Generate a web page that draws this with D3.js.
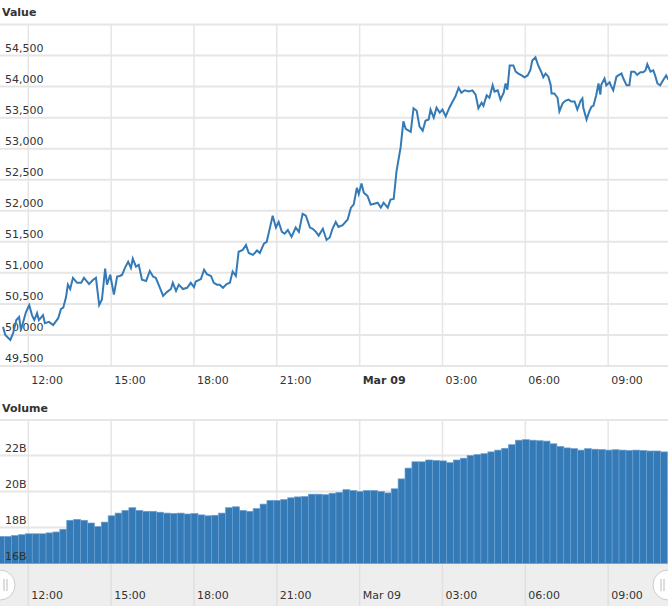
<!DOCTYPE html>
<html>
<head>
<meta charset="utf-8">
<script src="https://cdn.jsdelivr.net/npm/d3@7"></script>
<style>
  body { margin: 0; background: #fff; }
  text { font-family: "DejaVu Sans", Verdana, sans-serif; }
</style>
</head>
<body>
<div id="chart"></div>
<script>
// price samples: minutes after Mar 08 11:00, and price
const priceMinutes = [5,10,21,27,34,40,44,55,62,68,73,79,83,92,96,105,114,125,131,136,142,146,151,157,166,175,181,192,201,207,214,220,227,231,238,246,253,259,264,270,277,283,287,294,300,307,316,324,331,337,346,353,361,370,374,381,387,396,405,413,420,424,435,442,448,457,463,470,476,483,491,498,504,511,517,526,533,539,548,557,563,572,578,583,591,598,604,611,617,624,632,641,648,656,663,672,678,685,691,700,708,715,721,728,734,743,754,761,767,774,778,784,789,797,804,810,819,826,832,841,847,854,860,869,875,880,891,897,904,910,917,923,930,934,941,947,954,960,967,975,982,988,995,1001,1008,1017,1025,1032,1038,1045,1049,1056,1062,1069,1073,1080,1086,1093,1097,1101,1106,1114,1119,1125,1132,1138,1145,1151,1155,1162,1168,1175,1179,1184,1190,1195,1197,1203,1210,1214,1221,1227,1234,1240,1247,1253,1260,1264,1266,1273,1279,1284,1288,1294,1299,1303,1305,1312,1316,1323,1327,1331,1338,1342,1349,1353,1360,1366,1370,1377,1383,1390,1396,1401,1405,1412,1418,1422,1427,1433,1440,1446,1451];
const prices = [50130,50000,49920,50030,50240,50290,50080,50370,50480,50320,50240,50350,50240,50320,50190,50210,50160,50270,50420,50440,50610,50810,50740,50920,50840,50840,50920,50820,50890,50920,50480,50570,51070,50810,50970,50650,50940,50950,50970,51080,51180,51080,51230,51100,51130,50890,50870,51030,50940,50920,50760,50630,50690,50740,50840,50710,50810,50740,50760,50840,50770,50860,50900,51050,50980,50950,50840,50810,50810,50760,50820,50840,51020,50950,51340,51370,51450,51320,51290,51360,51320,51470,51500,51660,51920,51730,51820,51660,51630,51690,51580,51730,51660,51950,51920,51730,51710,51660,51600,51710,51530,51570,51710,51820,51740,51770,51860,52050,52100,52370,52270,52440,52290,52240,52100,52110,52130,52050,52130,52050,52180,52190,52630,53020,53440,53320,53270,53650,53610,53360,53290,53450,53470,53630,53500,53660,53580,53630,53520,53660,53760,53840,53980,53900,53940,53920,53940,53870,53650,53740,53690,53860,53820,54020,53920,53940,53790,53900,54050,53950,54340,54340,54240,54210,54180,54150,54180,54270,54420,54470,54340,54230,54150,54210,54160,54030,53890,53890,53820,53600,53730,53770,53790,53760,53760,53630,53770,53810,53660,53470,53600,53680,53690,53860,54050,53870,54030,54130,54020,54070,54000,53940,54160,54180,54210,54130,54020,54020,54240,54240,54190,54230,54230,54260,54360,54240,54260,54180,54050,54020,54110,54180,54110];

// volume, 15-minute buckets from Mar 08 11:00, billions
const volumes = [17.5,17.5,17.55,17.6,17.65,17.65,17.65,17.7,17.75,17.9,18.4,18.45,18.4,18.25,18.05,18.3,18.65,18.8,18.95,19.1,18.95,18.9,18.9,18.85,18.8,18.78,18.8,18.75,18.78,18.7,18.65,18.68,18.8,19.1,19.15,18.95,18.9,19.05,19.3,19.5,19.5,19.55,19.65,19.7,19.72,19.85,19.85,19.82,19.9,19.95,20.1,20.05,20.0,20.05,20.05,20.0,19.92,20.15,20.7,21.3,21.65,21.65,21.75,21.72,21.7,21.6,21.75,21.85,22.0,22.05,22.1,22.2,22.3,22.4,22.6,22.85,22.88,22.85,22.82,22.8,22.65,22.5,22.42,22.38,22.3,22.38,22.35,22.33,22.3,22.32,22.3,22.28,22.3,22.28,22.25,22.25,22.2];

const priceTicks = [49500,50000,50500,51000,51500,52000,52500,53000,53500,54000,54500];
const volumeTicks = [16,18,20,22];
const timeTickHours = [12,15,18,21,24,27,30,33];

const width = 668, height = 612;
const t0 = new Date(2020, 2, 8, 11, 0);
const addMin = m => new Date(t0.getTime() + m * 60000);

const svg = d3.select("#chart").append("svg")
    .attr("width", width).attr("height", height);

const x = d3.scaleTime()
    .domain([addMin(-1.5), addMin(1450)])
    .range([0, width]);
const tickDates = timeTickHours.map(h => addMin((h - 11) * 60));
const fmt = d => d.getHours() === 0 ? "Mar 09" : d3.timeFormat("%H:%M")(d);

const gridColor = "#e6e6e6";
const blue = "#337ab7";

// ---- price panel
const yP = d3.scaleLinear().domain([49500, 55000]).range([366, 24.5]);

svg.append("text").attr("x", 2).attr("y", 16)
    .style("font-size", "11px").style("font-weight", "bold").attr("fill", "#333").text("Value");

svg.append("line").attr("x1", 0).attr("x2", width).attr("y1", 24.5).attr("y2", 24.5)
    .attr("stroke", gridColor).attr("stroke-width", 2);

svg.append("g").selectAll("line").data(priceTicks).join("line")
    .attr("x1", 0).attr("x2", width)
    .attr("y1", d => yP(d)).attr("y2", d => yP(d))
    .attr("stroke", gridColor).attr("stroke-width", 2);

svg.append("g").selectAll("line").data(tickDates).join("line")
    .attr("x1", d => x(d)).attr("x2", d => x(d))
    .attr("y1", 24).attr("y2", 367)
    .attr("stroke", gridColor).attr("stroke-width", 1.5);

svg.append("g").selectAll("text").data(priceTicks).join("text")
    .attr("x", 5).attr("y", d => yP(d) - 4)
    .style("font-size", "11px").attr("fill", "#333")
    .text(d => d3.format(",")(d));

svg.append("g").selectAll("text").data(tickDates).join("text")
    .attr("x", d => x(d) + 3).attr("y", 384)
    .style("font-size", "11px").attr("fill", "#333")
    .style("font-weight", d => d.getHours() === 0 ? "bold" : "normal")
    .text(fmt);

const line = d3.line().x((d, i) => x(addMin(priceMinutes[i]))).y(d => yP(d));
svg.append("path").datum(prices)
    .attr("d", line).attr("fill", "none")
    .attr("stroke", blue).attr("stroke-width", 2);

// ---- volume panel
const yV = d3.scaleLinear().domain([16, 24]).range([563.5, 419.5]);

svg.append("text").attr("x", 2).attr("y", 412)
    .style("font-size", "11px").style("font-weight", "bold").attr("fill", "#333").text("Volume");

svg.append("line").attr("x1", 0).attr("x2", width).attr("y1", 420).attr("y2", 420)
    .attr("stroke", gridColor).attr("stroke-width", 2);

svg.append("g").selectAll("line").data(volumeTicks).join("line")
    .attr("x1", 0).attr("x2", width)
    .attr("y1", d => yV(d)).attr("y2", d => yV(d))
    .attr("stroke", gridColor).attr("stroke-width", 2);

svg.append("g").selectAll("line").data(tickDates).join("line")
    .attr("x1", d => x(d)).attr("x2", d => x(d))
    .attr("y1", 420).attr("y2", 564)
    .attr("stroke", gridColor).attr("stroke-width", 1.5);

const barW = x(addMin(15)) - x(addMin(0));
svg.append("g").selectAll("rect").data(volumes).join("rect")
    .attr("x", (d, i) => x(addMin(i * 15)) - barW / 2 + 0.5)
    .attr("y", d => yV(d))
    .attr("width", barW)
    .attr("height", d => yV(16) - yV(d))
    .attr("fill", blue)
    .attr("stroke", "#6b9fd1").attr("stroke-width", 0.7);

svg.append("g").selectAll("text").data(volumeTicks).join("text")
    .attr("x", 5).attr("y", d => yV(d) - 4)
    .style("font-size", "11px").attr("fill", "#333")
    .text(d => d + "B");

// ---- navigator
svg.append("rect").attr("x", 0).attr("y", 564).attr("width", width).attr("height", 42)
    .attr("fill", "#eeeeee");
svg.append("g").selectAll("line").data(tickDates).join("line")
    .attr("x1", d => x(d)).attr("x2", d => x(d))
    .attr("y1", 564).attr("y2", 606)
    .attr("stroke", "#e0e0e0").attr("stroke-width", 1.5);
svg.append("g").selectAll("text").data(tickDates).join("text")
    .attr("x", d => x(d) + 3).attr("y", 599)
    .style("font-size", "11px").attr("fill", "#333")
    .text(fmt);

[0, width].forEach(cx => {
    svg.append("circle").attr("cx", cx).attr("cy", 585).attr("r", 15)
        .attr("fill", "#fff").attr("stroke", "#ccc").attr("stroke-width", 1);
    const dir = cx === 0 ? 1 : -1;
    [4, 7].forEach(o => svg.append("line")
        .attr("x1", cx + dir * o).attr("x2", cx + dir * o)
        .attr("y1", 579).attr("y2", 591)
        .attr("stroke", "#bbb").attr("stroke-width", 1));
});
</script>
</body>
</html>
